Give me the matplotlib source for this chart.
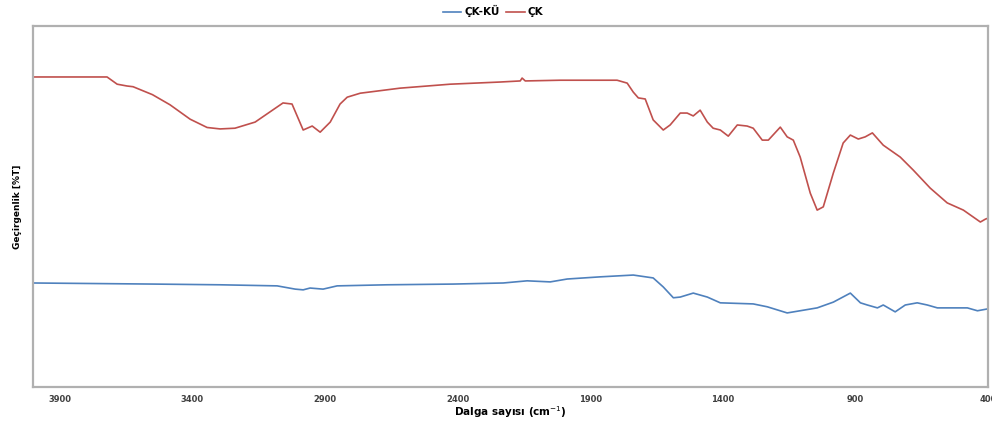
import matplotlib.pyplot as plt

plt.rcParams['font.family'] = ['DejaVu Sans']

# Values (wavenumber in cm-1, transmittance %T)
CK_X = [4000, 3721, 3683, 3646, 3623, 3550, 3484, 3408, 3344, 3295, 3239, 3163, 3058, 3024,
        2982, 2948, 2918, 2880, 2843, 2816, 2767, 2617, 2428, 2240, 2164, 2157, 2145,
        2013, 1799, 1761, 1738, 1719, 1693, 1663, 1625, 1599, 1561, 1535, 1512, 1486,
        1459, 1437, 1410, 1380, 1346, 1309, 1286, 1252, 1229, 1184, 1158, 1135, 1109,
        1071, 1045, 1022, 984, 947, 920, 890, 864, 837, 796, 732, 683, 619, 555, 494,
        430, 411, 400]
CK_Y = [85.9, 85.9, 83.9, 83.4, 83.2, 81.0, 78.2, 74.2, 71.9, 71.5, 71.7, 73.4, 78.7, 78.4,
        71.2, 72.3, 70.6, 73.4, 78.4, 80.3, 81.4, 82.8, 83.9, 84.5, 84.8, 85.6, 84.8,
        85.0, 85.0, 84.2, 81.7, 80.1, 79.8, 74.0, 71.2, 72.6, 75.9, 75.9, 75.1, 76.7,
        73.4, 71.7, 71.2, 69.5, 72.6, 72.3, 71.7, 68.4, 68.4, 72.0, 69.3, 68.4, 63.7,
        53.7, 49.0, 49.9, 59.3, 67.6, 69.8, 68.7, 69.3, 70.4, 67.0, 63.7, 60.1, 55.1,
        51.0, 49.0, 45.7, 46.5, 46.8]

CKKU_X = [4000, 3548, 3295, 3080, 3012, 2982, 2956, 2907, 2854, 2666, 2417, 2228, 2138,
          2051, 1987, 1863, 1738, 1663, 1625, 1587, 1561, 1512, 1459, 1410, 1286, 1233,
          1158, 1045, 984, 920, 882, 856, 818, 796, 751, 713, 668, 630, 592, 479, 441, 404]
CKKU_Y = [28.8, 28.5, 28.3, 28.0, 27.1, 26.9, 27.4, 27.1, 28.0, 28.3, 28.5, 28.8, 29.4,
          29.1, 29.9, 30.5, 31.0, 30.2, 27.7, 24.7, 24.9, 26.0, 24.9, 23.3, 23.0, 22.2,
          20.5, 21.9, 23.5, 26.0, 23.3, 22.7, 21.9, 22.7, 20.8, 22.7, 23.3, 22.7, 21.9,
          21.9, 21.1, 21.6]

TICKS = [3900, 3400, 2900, 2400, 1900, 1400, 900, 400]

fig = plt.figure(figsize=(9.92, 4.21), dpi=100)
ax = fig.add_axes([0.0333, 0.081, 0.963, 0.857])

ax.plot(CKKU_X, CKKU_Y, color='#4f81bd', lw=1.2, label='ÇK-KÜ')
ax.plot(CK_X, CK_Y, color='#c0504d', lw=1.2, label='ÇK')

ax.set_xlim(4000, 400)
ax.set_ylim(0, 100)
ax.set_xticks(TICKS)
ax.set_xticklabels([str(t) for t in TICKS], fontsize=6, fontweight='bold', color='#404040')
ax.set_yticks([])
ax.tick_params(axis='x', length=0, pad=6)

for s in ax.spines.values():
    s.set_color('#b0b0b0')
    s.set_linewidth(1.6)

ax.set_xlabel('Dalga sayısı (cm$^{-1}$)', fontsize=7.5, fontweight='bold', labelpad=0)
ax.set_ylabel('Geçirgenlik [%T]', fontsize=6.5, fontweight='bold', labelpad=8)

fig.legend(loc='upper center', bbox_to_anchor=(0.497, 1.01), ncol=2, frameon=False,
           prop={'size': 7.5, 'weight': 'bold'}, handlelength=1.8, columnspacing=0.6,
           handletextpad=0.3)

fig.savefig('out.png', dpi=100)
